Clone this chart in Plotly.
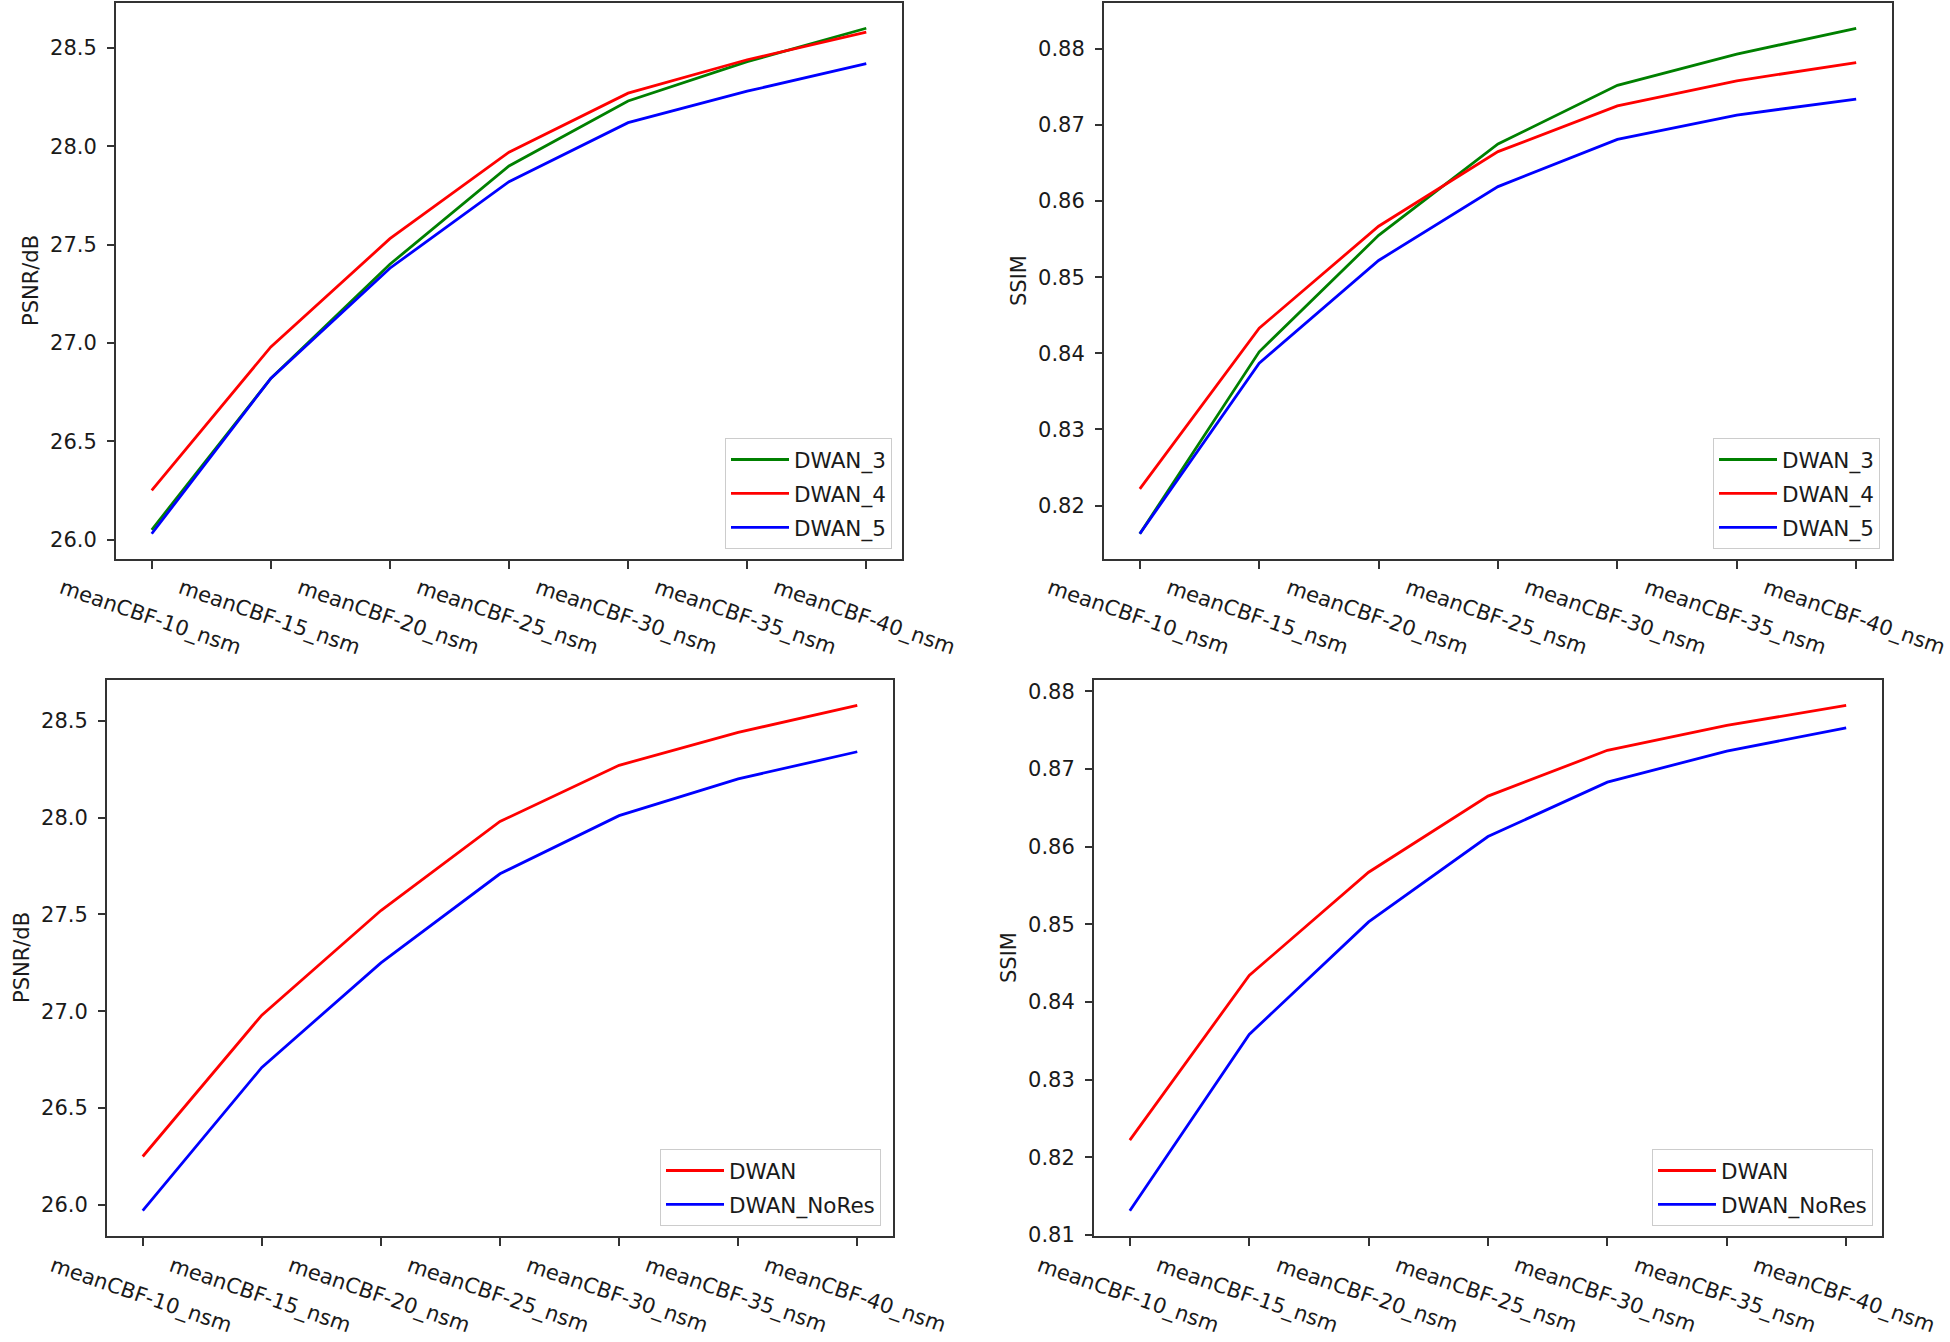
import plotly.graph_objects as go

# ---------------- data ----------------
categories = ["meanCBF-10_nsm", "meanCBF-15_nsm", "meanCBF-20_nsm", "meanCBF-25_nsm",
              "meanCBF-30_nsm", "meanCBF-35_nsm", "meanCBF-40_nsm"]

psnr_dwan3 = [26.05, 26.82, 27.40, 27.90, 28.23, 28.43, 28.60]
psnr_dwan4 = [26.25, 26.98, 27.53, 27.97, 28.27, 28.44, 28.58]
psnr_dwan5 = [26.03, 26.82, 27.38, 27.82, 28.12, 28.28, 28.42]

ssim_dwan3 = [0.8163, 0.8402, 0.8555, 0.8675, 0.8752, 0.8793, 0.8827]
ssim_dwan4 = [0.8222, 0.8433, 0.8567, 0.8665, 0.8725, 0.8758, 0.8782]
ssim_dwan5 = [0.8163, 0.8387, 0.8522, 0.8619, 0.8681, 0.8713, 0.8734]

psnr_dwan = [26.25, 26.98, 27.52, 27.98, 28.27, 28.44, 28.58]
psnr_nores = [25.97, 26.71, 27.25, 27.71, 28.01, 28.20, 28.34]

ssim_dwan = [0.8222, 0.8434, 0.8567, 0.8665, 0.8724, 0.8756, 0.8782]
ssim_nores = [0.8131, 0.8358, 0.8503, 0.8613, 0.8683, 0.8723, 0.8753]

psnr_ticks = [26.0, 26.5, 27.0, 27.5, 28.0, 28.5]
ssim_ticks = [0.81, 0.82, 0.83, 0.84, 0.85, 0.86, 0.87, 0.88]

# ---------------- layout constants ----------------
W, H = 1950, 1342
FONT = "DejaVu Sans, Verdana, sans-serif"
FS = 21
TXT = "#1a1a1a"

def px(x):
    return x / W

def py(y):
    return 1 - y / H

panels = [
    dict(x=(116, 902), y=(3, 559), title="PSNR/dB", ticks=psnr_ticks, fmt=".1f",
         series=[("DWAN_3", psnr_dwan3, "#008000"), ("DWAN_4", psnr_dwan4, "#ff0000"),
                 ("DWAN_5", psnr_dwan5, "#0000ff")],
         legend=(892, 549)),
    dict(x=(1104, 1892), y=(3, 559), title="SSIM", ticks=ssim_ticks, fmt=".2f",
         series=[("DWAN_3", ssim_dwan3, "#008000"), ("DWAN_4", ssim_dwan4, "#ff0000"),
                 ("DWAN_5", ssim_dwan5, "#0000ff")],
         legend=(1880, 549)),
    dict(x=(107, 893), y=(680, 1236), title="PSNR/dB", ticks=psnr_ticks, fmt=".1f",
         series=[("DWAN", psnr_dwan, "#ff0000"), ("DWAN_NoRes", psnr_nores, "#0000ff")],
         legend=(881, 1226)),
    dict(x=(1094, 1882), y=(680, 1236), title="SSIM", ticks=ssim_ticks, fmt=".2f",
         series=[("DWAN", ssim_dwan, "#ff0000"), ("DWAN_NoRes", ssim_nores, "#0000ff")],
         legend=(1873, 1226)),
]

fig = go.Figure()
layout = dict(
    width=W, height=H,
    margin=dict(l=0, r=0, t=0, b=0, autoexpand=False),
    paper_bgcolor="white", plot_bgcolor="white",
    font=dict(family=FONT, size=FS, color=TXT),
    annotations=[],
)

for i, p in enumerate(panels, start=1):
    sfx = "" if i == 1 else str(i)
    xa, ya = "x" + sfx, "y" + sfx
    leg = "legend" + sfx
    allv = [v for s in p["series"] for v in s[1]]
    lo, hi = min(allv), max(allv)
    span = hi - lo
    yr = [lo - 0.05 * span, hi + 0.05 * span]
    for k, (name, vals, col) in enumerate(p["series"]):
        fig.add_trace(go.Scatter(
            x=categories, y=vals, mode="lines", name=name,
            line=dict(color=col, width=2.8),
            xaxis=xa, yaxis=ya, legend=leg, legendgroup=f"g{i}_{k}",
        ))
    layout["xaxis" + sfx] = dict(
        domain=[px(p["x"][0]), px(p["x"][1])], anchor=ya, type="category",
        range=[-0.3, len(categories) - 1 + 0.3], automargin=False,
        showline=True, mirror=True, linecolor="#333333", linewidth=2,
        ticks="outside", ticklen=8, tickwidth=1.6, tickcolor="#333333",
        showticklabels=False, showgrid=False, zeroline=False,
    )
    layout["yaxis" + sfx] = dict(
        domain=[py(p["y"][1]), py(p["y"][0])], anchor=xa, range=yr, automargin=False,
        tickvals=p["ticks"], tickformat=p["fmt"],
        showline=True, mirror=True, linecolor="#333333", linewidth=2,
        ticks="outside", ticklen=7, tickwidth=1.6, tickcolor="#333333",
        ticklabelstandoff=6,
        tickfont=dict(family=FONT, size=FS, color=TXT),
        showgrid=False, zeroline=False,
    )
    layout[leg] = dict(
        x=px(p["legend"][0]), y=py(p["legend"][1]), xanchor="right", yanchor="bottom",
        bgcolor="rgba(255,255,255,0.85)", bordercolor="#cccccc", borderwidth=1,
        font=dict(family=FONT, size=FS + 0.5, color=TXT), tracegroupgap=3,
        itemwidth=58,
    )
    # rotated x tick labels, centred under each category tick
    ylab = py(p["y"][1] + 59)
    for c in categories:
        layout["annotations"].append(dict(
            x=c, xref=xa, y=ylab, yref="paper", text=c, textangle=19,
            showarrow=False, xanchor="center", yanchor="middle", xshift=-2,
            font=dict(family=FONT, size=FS, color=TXT),
        ))
    # y axis title
    layout["annotations"].append(dict(
        x=px(p["x"][0] - 85), xref="paper", y=py((p["y"][0] + p["y"][1]) / 2), yref="paper",
        text=p["title"], textangle=-90, showarrow=False, xanchor="center", yanchor="middle",
        font=dict(family=FONT, size=FS, color=TXT),
    ))

fig.update_layout(**layout)
fig.write_html(
    "out.html",
    config={"displayModeBar": False},
    post_script="document.body.style.margin='0';document.body.style.padding='0';",
)
